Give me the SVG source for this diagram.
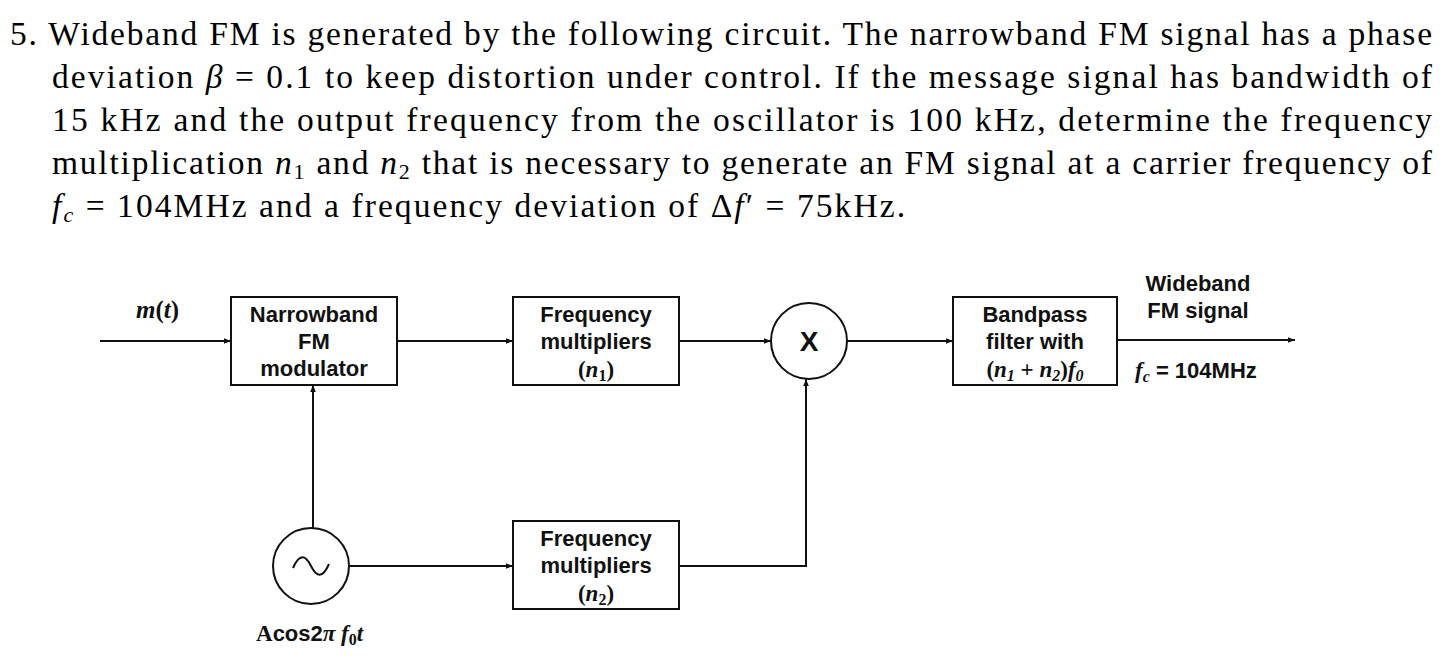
<svg xmlns="http://www.w3.org/2000/svg" width="1449" height="669" viewBox="0 0 1449 669">
<style>
.q{font-family:"Liberation Serif",serif;font-size:33.5px;fill:#000}
.b{font-family:"Liberation Sans",Arial,sans-serif;font-size:22px;font-weight:bold;fill:#111;text-anchor:middle}
.m{font-family:"Liberation Serif",serif;font-size:23px;font-weight:bold;font-style:italic;fill:#111}
.box{fill:#fff;stroke:#111;stroke-width:2}
.ln{fill:none;stroke:#111;stroke-width:2;marker-end:url(#a)}
</style>
<defs><marker id="a" viewBox="0 0 10 10" refX="10" refY="5" markerWidth="7" markerHeight="7" markerUnits="userSpaceOnUse" orient="auto"><path d="M0,1 L10,5 L0,9 Z" fill="#111"/></marker></defs>
<rect width="1449" height="669" fill="#fff"/>
<g id="question">
<text class="q" x="10" y="45" textLength="1422" lengthAdjust="spacing">5.  Wideband FM is generated by the following circuit.  The narrowband FM signal has a phase</text>
<text class="q" x="52" y="88" textLength="1380" lengthAdjust="spacing">deviation <tspan font-style="italic">β</tspan> = 0.1 to keep distortion under control.  If the message signal has bandwidth of</text>
<text class="q" x="52" y="131" textLength="1380" lengthAdjust="spacing">15 kHz and the output frequency from the oscillator is 100 kHz, determine the frequency</text>
<text class="q" x="52" y="174" textLength="1380" lengthAdjust="spacing">multiplication <tspan font-style="italic">n</tspan><tspan font-size="22" dy="5">1</tspan><tspan dy="-5"> and </tspan><tspan font-style="italic">n</tspan><tspan font-size="22" dy="5">2</tspan><tspan dy="-5"> that is necessary to generate an FM signal at a carrier frequency of</tspan></text>
<text class="q" x="52" y="217" textLength="853" lengthAdjust="spacing"><tspan font-style="italic">f</tspan><tspan font-size="22" font-style="italic" dy="5">c</tspan><tspan dy="-5"> = 104MHz and a frequency deviation of Δ</tspan><tspan font-style="italic">f</tspan>′ = 75kHz.</text>
</g>
<g id="connectors">
<path class="ln" d="M100,341 H231"/>
<path class="ln" d="M397,341 H513"/>
<path class="ln" d="M679,341 H771"/>
<path class="ln" d="M847,341 H953"/>
<path class="ln" d="M1117,340 H1295"/>
<path class="ln" d="M313,528 V385"/>
<path class="ln" d="M349,566 H513"/>
<path class="ln" d="M679,566 H806 V379"/>
</g>
<g id="nbfm"><rect class="box" x="231" y="297" width="166" height="88"/>
<text class="b" x="314" y="322">Narrowband</text><text class="b" x="314" y="349">FM</text><text class="b" x="314" y="376">modulator</text></g>
<g id="mult1"><rect class="box" x="513" y="297" width="166" height="88"/>
<text class="b" x="596" y="322">Frequency</text><text class="b" x="596" y="349">multipliers</text><text class="b" x="596" y="377" style="font-family:'Liberation Serif',serif;font-size:23px">(<tspan font-style="italic">n</tspan><tspan font-size="16" dy="4">1</tspan><tspan dy="-4">)</tspan></text></g>
<g id="mixer"><circle cx="809" cy="341" r="38" fill="#fff" stroke="#111" stroke-width="2"/>
<text class="b" x="809" y="351" style="font-size:28px">X</text></g>
<g id="bpf"><rect class="box" x="953" y="297" width="164" height="88"/>
<text class="b" x="1035" y="322">Bandpass</text><text class="b" x="1035" y="349">filter with</text>
<text class="m" x="1035" y="377" text-anchor="middle"><tspan font-style="normal">(</tspan>n<tspan font-size="16" dy="4">1</tspan><tspan dy="-4" font-style="normal"> + </tspan>n<tspan font-size="16" dy="4">2</tspan><tspan dy="-4" font-style="normal">)</tspan>f<tspan font-size="16" dy="4">0</tspan></text></g>
<g id="output"><text class="b" x="1198" y="291">Wideband</text><text class="b" x="1198" y="318">FM signal</text>
<text class="m" x="1135" y="378">f<tspan font-size="16" dy="4">c</tspan><tspan dy="-4" font-style="normal" font-family="Liberation Sans" font-size="22"> = 104MHz</tspan></text></g>
<g id="input"><text class="m" x="136" y="318" style="font-size:25px">m<tspan font-style="normal">(</tspan>t<tspan font-style="normal">)</tspan></text></g>
<g id="osc"><circle cx="311" cy="566" r="38" fill="#fff" stroke="#111" stroke-width="2"/>
<path d="M293,568 C300,552 306,556 311,566 C316,576 322,580 329,564" fill="none" stroke="#111" stroke-width="2"/>
<text class="m" x="256" y="641" style="font-style:normal">A<tspan font-family="Liberation Sans" font-size="22">cos2</tspan><tspan font-style="italic">π f</tspan><tspan font-size="16" dy="4">0</tspan><tspan dy="-4" font-style="italic">t</tspan></text></g>
<g id="mult2"><rect class="box" x="513" y="521" width="166" height="88"/>
<text class="b" x="596" y="546">Frequency</text><text class="b" x="596" y="573">multipliers</text><text class="b" x="596" y="601" style="font-family:'Liberation Serif',serif;font-size:23px">(<tspan font-style="italic">n</tspan><tspan font-size="16" dy="4">2</tspan><tspan dy="-4">)</tspan></text></g>
</svg>
